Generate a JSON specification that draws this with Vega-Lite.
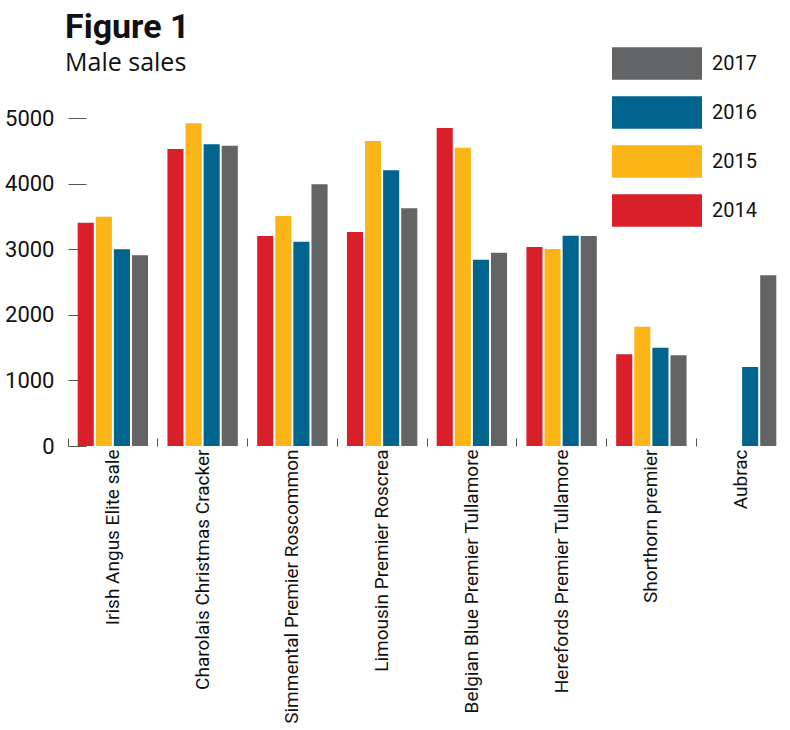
{
  "$schema": "https://vega.github.io/schema/vega-lite/v6.json",
  "autosize": {"type": "none"},
  "width": 718,
  "height": 328,
  "padding": {"left": 68, "top": 118, "right": 4, "bottom": 284},
  "background": "white",
  "config": {"view": {"stroke": null}},
  "title": {
    "text": "Figure 1",
    "subtitle": "Male sales",
    "anchor": "start",
    "frame": "group",
    "dx": -3,
    "dy": 29,
    "offset": 0,
    "font": "Roboto",
    "fontSize": 34,
    "fontWeight": "bold",
    "color": "#111111",
    "subtitleFont": "Open Sans",
    "subtitleFontSize": 25,
    "subtitleColor": "#111111",
    "subtitlePadding": 6
  },
  "data": {
    "values": [
      {"sale": "Irish Angus Elite sale", "year": "2014", "value": 3404},
      {"sale": "Irish Angus Elite sale", "year": "2015", "value": 3496},
      {"sale": "Irish Angus Elite sale", "year": "2016", "value": 2998},
      {"sale": "Irish Angus Elite sale", "year": "2017", "value": 2906},
      {"sale": "Charolais Christmas Cracker", "year": "2014", "value": 4527},
      {"sale": "Charolais Christmas Cracker", "year": "2015", "value": 4919},
      {"sale": "Charolais Christmas Cracker", "year": "2016", "value": 4599},
      {"sale": "Charolais Christmas Cracker", "year": "2017", "value": 4578},
      {"sale": "Simmental Premier Roscommon", "year": "2014", "value": 3201},
      {"sale": "Simmental Premier Roscommon", "year": "2015", "value": 3506},
      {"sale": "Simmental Premier Roscommon", "year": "2016", "value": 3115},
      {"sale": "Simmental Premier Roscommon", "year": "2017", "value": 3989},
      {"sale": "Limousin Premier Roscrea", "year": "2014", "value": 3262},
      {"sale": "Limousin Premier Roscrea", "year": "2015", "value": 4650},
      {"sale": "Limousin Premier Roscrea", "year": "2016", "value": 4202},
      {"sale": "Limousin Premier Roscrea", "year": "2017", "value": 3623},
      {"sale": "Belgian Blue Premier Tullamore", "year": "2014", "value": 4848},
      {"sale": "Belgian Blue Premier Tullamore", "year": "2015", "value": 4548},
      {"sale": "Belgian Blue Premier Tullamore", "year": "2016", "value": 2840},
      {"sale": "Belgian Blue Premier Tullamore", "year": "2017", "value": 2947},
      {"sale": "Herefords Premier Tullamore", "year": "2014", "value": 3034},
      {"sale": "Herefords Premier Tullamore", "year": "2015", "value": 3003},
      {"sale": "Herefords Premier Tullamore", "year": "2016", "value": 3206},
      {"sale": "Herefords Premier Tullamore", "year": "2017", "value": 3201},
      {"sale": "Shorthorn premier", "year": "2014", "value": 1397},
      {"sale": "Shorthorn premier", "year": "2015", "value": 1819},
      {"sale": "Shorthorn premier", "year": "2016", "value": 1499},
      {"sale": "Shorthorn premier", "year": "2017", "value": 1382},
      {"sale": "Aubrac", "year": "2016", "value": 1204},
      {"sale": "Aubrac", "year": "2017", "value": 2602}
    ]
  },
  "mark": {"type": "bar", "zindex": 1},
  "encoding": {
    "x": {
      "field": "sale",
      "type": "nominal",
      "sort": null,
      "scale": {"paddingInner": 0, "paddingOuter": 0},
      "axis": {
        "title": null,
        "domain": false,
        "bandPosition": 0,
        "ticks": true,
        "tickSize": -8,
        "tickColor": "#555555",
        "tickWidth": 1,
        "labelAngle": -90,
        "labelAlign": "right",
        "labelBaseline": "middle",
        "labelPadding": 11,
        "labelLimit": 400,
        "labelFont": "Roboto",
        "labelFontSize": 19,
        "labelColor": "#111111",
        "grid": false
      }
    },
    "xOffset": {
      "field": "year",
      "type": "nominal",
      "scale": {"domain": ["2014", "2015", "2016", "2017"], "paddingInner": 0.11, "paddingOuter": 0.535}
    },
    "y": {
      "field": "value",
      "type": "quantitative",
      "scale": {"domain": [0, 5000], "nice": false},
      "axis": {
        "title": null,
        "domain": false,
        "grid": false,
        "format": "d",
        "values": [0, 1000, 2000, 3000, 4000, 5000],
        "tickSize": -18,
        "tickColor": "#555555",
        "tickWidth": 1,
        "labelPadding": 32,
        "labelFont": "Roboto",
        "labelFontSize": 22,
        "labelColor": "#111111",
        "zindex": 0
      }
    },
    "color": {
      "field": "year",
      "type": "nominal",
      "scale": {
        "domain": ["2017", "2016", "2015", "2014"],
        "range": ["#636466", "#00648f", "#fbb516", "#d91f2a"]
      },
      "legend": {
        "title": null,
        "orient": "none",
        "legendX": 544,
        "legendY": -71,
        "symbolType": "M-1,-0.36H1V0.36H-1Z",
        "symbolSize": 8100,
        "symbolStrokeWidth": 0,
        "symbolOpacity": 1,
        "clipHeight": 33,
        "rowPadding": 16,
        "labelOffset": 10,
        "labelFont": "Roboto",
        "labelFontSize": 20,
        "labelColor": "#111111"
      }
    }
  }
}
